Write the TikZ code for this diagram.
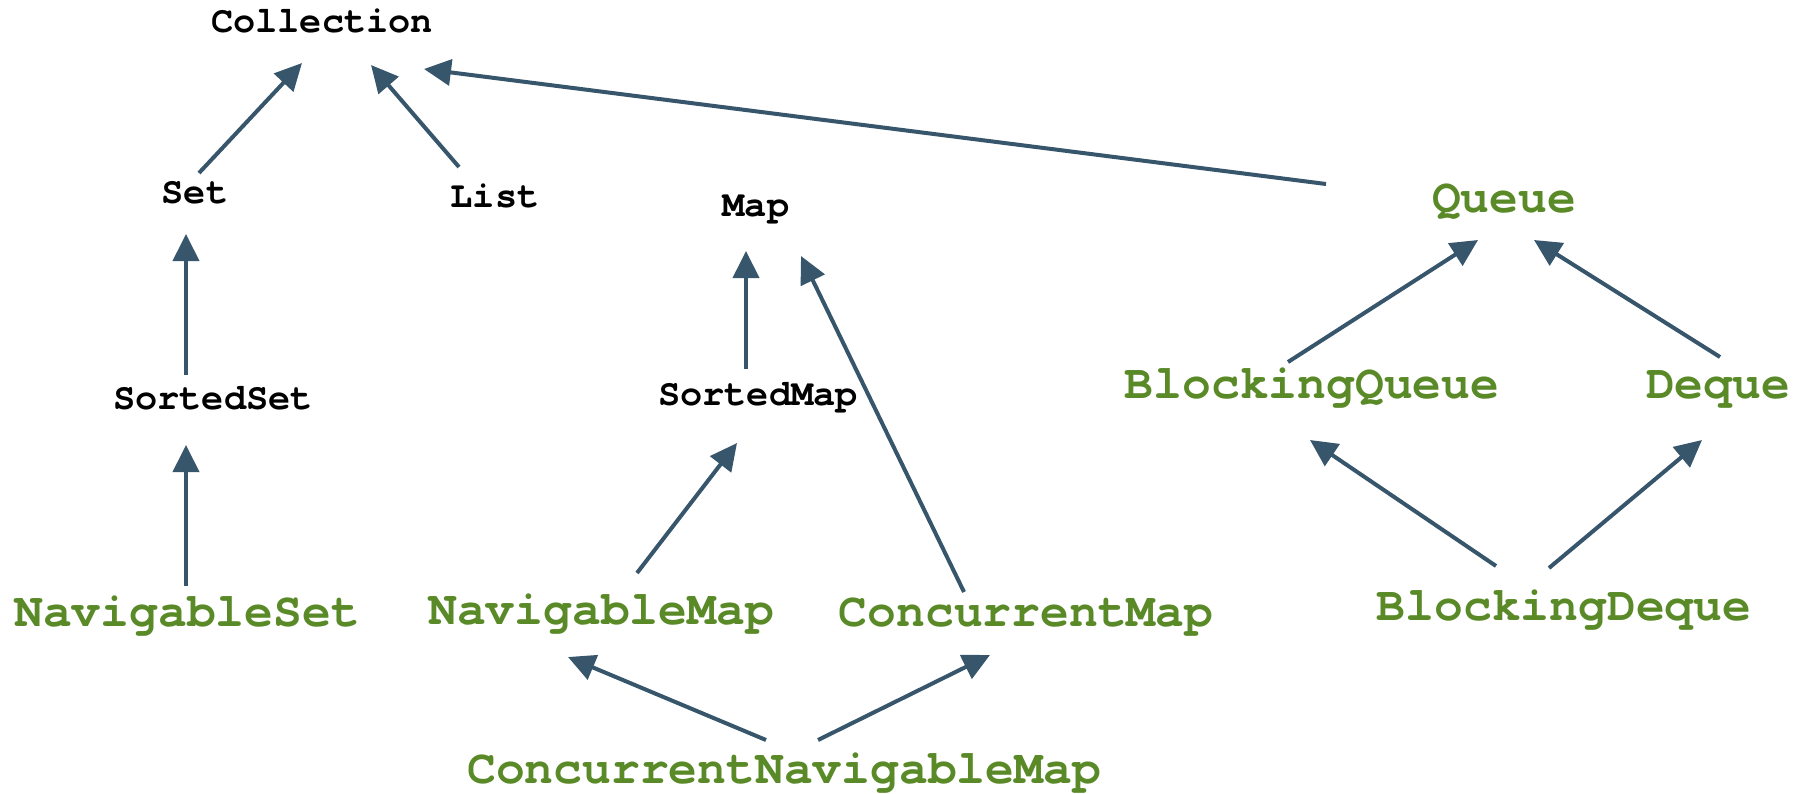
\documentclass[tikz,border=0pt]{standalone}
\usepackage{fontspec}
\setmonofont{TeX Gyre Cursor}
\usetikzlibrary{arrows.meta}

\definecolor{ifcgreen}{RGB}{90,138,40}
\definecolor{arrowblue}{RGB}{55,86,108}

\begin{document}
\begin{tikzpicture}[x=0.5pt, y=-0.5pt,
	base/.style={anchor=base, inner sep=0pt, font=\ttfamily\bfseries\fontsize{18.5pt}{20pt}\selectfont},
	green/.style={anchor=base, inner sep=0pt, text=ifcgreen, font=\ttfamily\bfseries\fontsize{24pt}{26pt}\selectfont},
	ext/.style={draw=arrowblue, line width=2pt, -{Triangle[length=13.5pt, width=13pt]}}]
	\useasboundingbox (0,0) rectangle (1808,793);
	
	% draw nodes
	\node[base] (coll) at (322,32) {Collection};
	\node[base] (set) at (195,203) {Set};
	\node[base] (list) at (495,207) {List};
	\node[base] (map) at (756,216) {Map};
	\node[green] (queue) at (1504,212) {Queue};
	\node[base] (sset) at (213,409) {SortedSet};
	\node[base] (smap) at (758,405) {SortedMap};
	\node[green] (bq) at (1312,398) {BlockingQueue};
	\node[green] (deque) at (1718,398) {Deque};
	\node[green] (nset) at (187,626) {NavigableSet};
	\node[green] (nmap) at (601,624) {NavigableMap};
	\node[green] (cmap) at (1026,626) {ConcurrentMap};
	\node[green] (bd) at (1564,620) {BlockingDeque};
	\node[green] (cnm) at (784,783) {ConcurrentNavigableMap};
	
	% draw arrows
	\draw[ext] ([shift={(4,-30)}]set.base) -- ([shift={(-20,31)}]coll.base);
	\draw[ext] ([shift={(-36,-40)}]list.base) -- ([shift={(49,33)}]coll.base);
	\draw[ext] ([shift={(-178,-28)}]queue.base) -- ([shift={(102,37)}]coll.base);
	\draw[ext] ([shift={(-27,-34)}]sset.base) -- ([shift={(-9,31)}]set.base);
	\draw[ext] ([shift={(-1,-40)}]nset.base) -- ([shift={(-27,36)}]sset.base);
	\draw[ext] ([shift={(-12,-36)}]smap.base) -- ([shift={(-10,35)}]map.base);
	\draw[ext] ([shift={(-62,-34)}]cmap.base) -- ([shift={(45,40)}]map.base);
	\draw[ext] ([shift={(36,-51)}]nmap.base) -- ([shift={(-21,38)}]smap.base);
	\draw[ext] ([shift={(-18,-43)}]cnm.base) -- ([shift={(-33,33)}]nmap.base);
	\draw[ext] ([shift={(34,-43)}]cnm.base) -- ([shift={(-36,29)}]cmap.base);
	\draw[ext] ([shift={(-24,-36)}]bq.base) -- ([shift={(-26,28)}]queue.base);
	\draw[ext] ([shift={(2,-41)}]deque.base) -- ([shift={(30,28)}]queue.base);
	\draw[ext] ([shift={(-68,-54)}]bd.base) -- ([shift={(-2,42)}]bq.base);
	\draw[ext] ([shift={(-15,-52)}]bd.base) -- ([shift={(-16,42)}]deque.base);
\end{tikzpicture}
\end{document}
